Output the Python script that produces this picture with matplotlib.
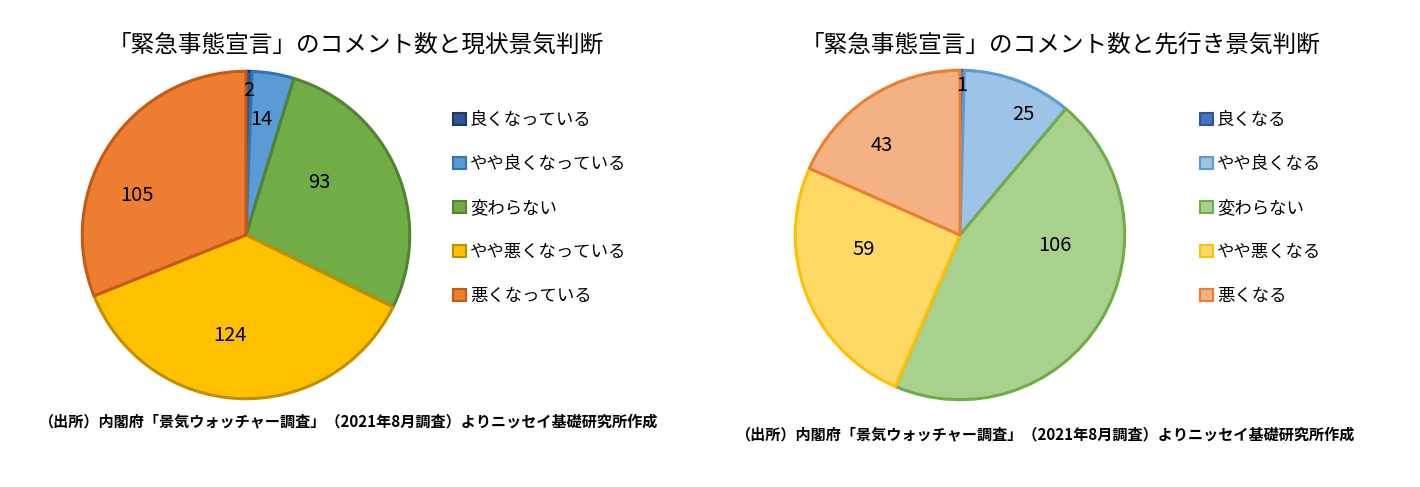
import numpy as np
import matplotlib
matplotlib.use("Agg")
import matplotlib.pyplot as plt
from matplotlib.patches import Patch

plt.rcParams['font.family'] = ['Noto Sans CJK JP', 'DejaVu Sans']

# ---- data ----
left_title = "「緊急事態宣言」のコメント数と現状景気判断"
left_labels = ["良くなっている", "やや良くなっている", "変わらない", "やや悪くなっている", "悪くなっている"]
left_values = [2, 14, 93, 124, 105]

right_title = "「緊急事態宣言」のコメント数と先行き景気判断"
right_labels = ["良くなる", "やや良くなる", "変わらない", "やや悪くなる", "悪くなる"]
right_values = [1, 25, 106, 59, 43]

source_text = "（出所）内閣府「景気ウォッチャー調査」（2021年8月調査）よりニッセイ基礎研究所作成"

# ---- styles ----
left_fill = ["#2F5597", "#5B9BD5", "#70AD47", "#FFC000", "#ED7D31"]
left_edge = ["#203864", "#2E75B6", "#548235", "#BF9000", "#C55A11"]
right_fill = ["#4472C4", "#9DC3E6", "#A9D18E", "#FFD966", "#F4B183"]
right_edge = ["#2F5597", "#5B9BD5", "#70AD47", "#FFC000", "#ED7D31"]

left_lab_r = [0.88, 0.71, 0.55, 0.62, 0.71]
left_lab_shift = [0, -2, -12, 7, -14]
right_lab_r = [0.91, 0.83, 0.58, 0.59, 0.72]
right_lab_shift = [0, 7, -25, 13, -8]

W, H = 1420, 487
fig = plt.figure(figsize=(W / 100, H / 100), dpi=100)


def draw(cx, cy, r, values, labels, fills, edges, lab_r, lab_shift, title, title_x,
         leg_x, leg_y, src_x, src_y):
    ax = fig.add_axes([(cx - r) / W, (H - cy - r) / H, 2 * r / W, 2 * r / H])
    wedges, _ = ax.pie(values, colors=fills, startangle=90, counterclock=False,
                       radius=1.0, wedgeprops=dict(linewidth=2.2, edgecolor='none'))
    for w, e in zip(wedges, edges):
        w.set_edgecolor(e)
        w.set_linewidth(2.2)
        w.set_joinstyle('round')
    ax.set_xlim(-1.02, 1.02)
    ax.set_ylim(-1.02, 1.02)
    ax.set_aspect('equal')
    ax.axis('off')
    total = float(sum(values))
    cum = np.cumsum([0] + list(values))
    for i, v in enumerate(values):
        mid = (cum[i] + v / 2.0) / total * 360.0 + lab_shift[i]
        theta = np.deg2rad(90 - mid)
        ax.text(lab_r[i] * np.cos(theta), lab_r[i] * np.sin(theta), str(v),
                ha='center', va='center', fontsize=14.5, color='black')
    fig.text(title_x / W, 1 - 45 / H, title, ha='center', va='center', fontsize=17)
    handles = [Patch(facecolor=f, edgecolor=e, linewidth=1.5) for f, e in zip(fills, edges)]
    fig.legend(handles, labels, loc='upper left', bbox_to_anchor=(leg_x / W, 1 - leg_y / H),
               frameon=False, fontsize=12.5, handlelength=0.72, handleheight=0.72,
               handletextpad=0.25, labelspacing=1.5, borderaxespad=0, borderpad=0)
    fig.text(src_x / W, 1 - src_y / H, source_text, ha='left', va='center',
             fontsize=10.9, fontweight='bold')


draw(246, 235, 167, left_values, left_labels, left_fill, left_edge, left_lab_r,
     left_lab_shift, left_title, 356, 453, 111, 39, 421)
draw(960, 235, 168, right_values, right_labels, right_fill, right_edge, right_lab_r,
     right_lab_shift, right_title, 1060, 1200, 111, 736, 434)

fig.savefig("out.png", dpi=100, facecolor='white')
